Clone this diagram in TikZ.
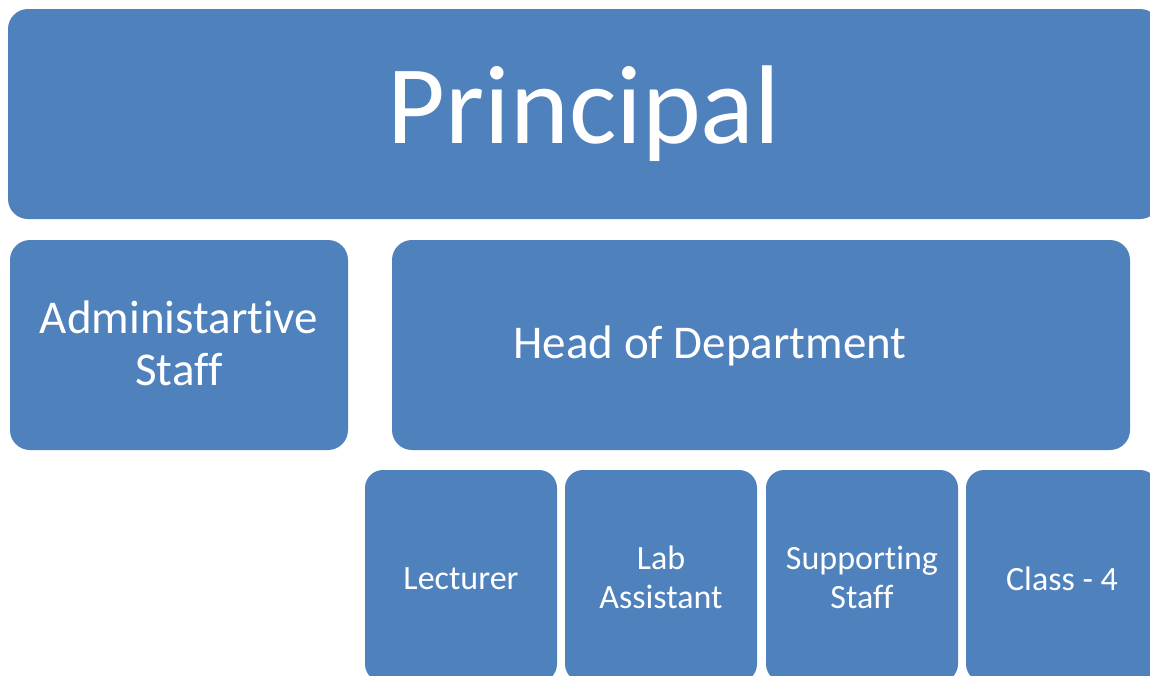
\documentclass[tikz,border=0pt]{standalone}
\usepackage{fontspec}
\setmainfont{Carlito}[Ligatures=NoCommon]
\definecolor{unitblue}{HTML}{4F81BD}

\tikzset{
  unitbox/.style={fill=unitblue, rounded corners=20pt, inner sep=0pt},
  smallbox/.style={unitbox, rounded corners=18pt, minimum width=192pt, minimum height=212pt},
  unittext/.style={text=white, align=center, inner sep=0pt},
  smalltext/.style={unittext, font=\fontsize{34}{39}\selectfont}
}

\begin{document}
\begin{tikzpicture}[x=1pt,y=-1pt]
 \useasboundingbox (0,0) rectangle (1150,675);
 \clip (0,0) rectangle (1150,675);

 % top level
 \node[unitbox, minimum width=1152pt, minimum height=210pt] (principal) at (584,114) {};
 \node[unittext, font=\fontsize{112}{120}\selectfont] (principaltext) at (584,114) {Principal};

 % second level
 \node[unitbox, minimum width=338pt, minimum height=210pt] (admin) at (179,345) {};
 \node[unittext, font=\fontsize{47}{52}\selectfont] (admintext) at (179,343) {Administartive\\Staff};
 \node[unitbox, minimum width=738pt, minimum height=210pt] (hod) at (761,345) {};
 \node[unittext, font=\fontsize{47}{52}\selectfont] (hodtext) at (710,346) {Head of Department};

 % third level
 \node[smallbox] (lecturer) at (461,576) {};
 \node[smallbox] (labasst) at (661,576) {};
 \node[smallbox] (support) at (862,576) {};
 \node[smallbox] (classfour) at (1062,576) {};
 \node[smalltext] at (461,579) {Lecturer};
 \node[smalltext] at (661,577) {Lab\\Assistant};
 \node[smalltext] at (862,577) {Supporting\\Staff};
 \node[smalltext] at (1062,579) {Class - 4};

\end{tikzpicture}
\end{document}
